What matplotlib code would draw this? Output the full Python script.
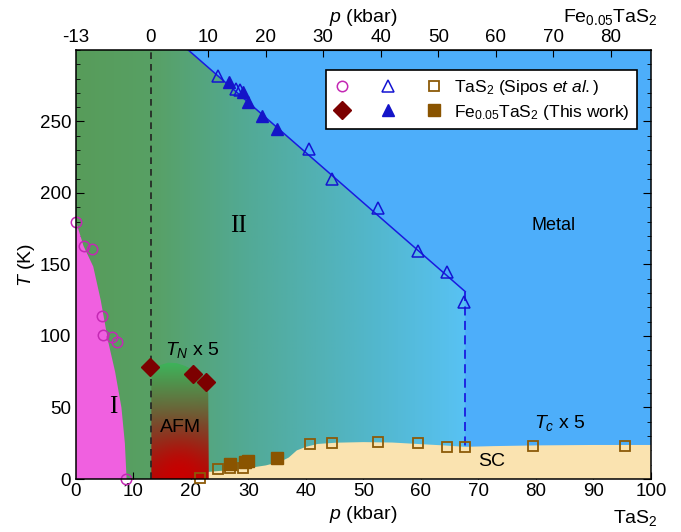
import numpy as np
import matplotlib
matplotlib.use("Agg")
import matplotlib.pyplot as plt
from matplotlib.patches import Polygon
from matplotlib.legend_handler import HandlerTuple
from matplotlib.ticker import MultipleLocator

plt.rcParams['font.family'] = ['Liberation Sans', 'DejaVu Sans']
plt.rcParams['mathtext.fontset'] = 'custom'
plt.rcParams['mathtext.it'] = 'Liberation Sans:italic'
plt.rcParams['mathtext.rm'] = 'Liberation Sans'
plt.rcParams['axes.unicode_minus'] = False

# --- data (p in kbar on the TaS2 scale, T in K) ---
# TaS2 (Sipos et al.)
p_cc_tas2 = [0.0, 1.4, 2.8, 4.6, 4.7, 6.2, 7.1, 8.7]
t_cc_tas2 = [180, 163, 160.5, 114, 101, 99, 96, 0]

p_nc_tas2 = [24.7, 27.9, 28.5, 40.6, 44.6, 52.6, 59.4, 64.5, 67.4]
t_nc_tas2 = [282, 273, 272, 230.5, 209.6, 189.7, 159.4, 144.8, 123.8]

p_sc_tas2 = [21.6, 24.7, 26.7, 29.1, 40.7, 44.6, 52.6, 59.4, 64.5, 67.6, 79.5, 95.4]
t_sc_tas2 = [0.5, 7, 7.5, 8, 24.5, 25.4, 25.7, 25, 22.2, 22.6, 23.3, 23.3]

# Fe0.05TaS2 (this work)
p_tn_fe = [12.9, 20.4, 22.6]
t_tn_fe = [78, 73.4, 67.6]

p_nc_fe = [26.6, 29.1, 30.0, 32.3, 34.9]
t_nc_fe = [277.8, 270.8, 263.8, 253.8, 244.5]

p_sc_fe = [26.7, 29.4, 30.0, 35.0]
t_sc_fe = [10.2, 12.1, 12.6, 14.9]

# phase boundaries
cdw_line_p = [19.5, 67.7]
cdw_line_t = [300, 131]
cdw_drop_t = [131, 22]

ccdw_p = [0, 0, 1.3, 3.0, 4.3, 5.6, 6.8, 7.9, 8.5, 8.8]
ccdw_t = [0, 180, 163, 148.5, 125, 96, 75, 50, 25, 0]

afm_p = [13.1, 13.1, 13.6, 14.5, 16.0, 17.5, 19.0, 20.5, 21.8, 22.6, 23.0, 23.1]
afm_t = [0, 70, 76, 79.5, 81.3, 81, 79, 76, 72, 66, 60, 0]

sc_p = [23.1, 23.1, 26, 29.7, 33, 35.5, 37, 38.4, 40, 42, 45.3, 50, 55, 59.4,
        63.9, 67.6, 72.6, 80, 90, 100, 100]
sc_t = [0, 5, 6, 7.5, 9.5, 12, 15, 20, 22.5, 24.5, 25.4, 25.8, 25.5, 24.5,
        23.5, 22.5, 23, 23.5, 23.8, 23.8, 0]

offset_fe = 13  # Fe0.05TaS2 pressure = TaS2 pressure - 13
top_ticks = [-13, 0, 10, 20, 30, 40, 50, 60, 70, 80]
y_ticks = [0, 50, 100, 150, 200, 250]

fig = plt.figure(figsize=(6.81, 5.32), dpi=100)
ax = fig.add_axes([0.1116, 0.0996, 0.8443, 0.8066])
ax.set_xlim(0, 100)
ax.set_ylim(0, 300)
ax.set_facecolor('#4daefa')

# NC-CDW region: horizontal green -> light blue gradient
stops_p = np.array([0, 13, 30, 50, 67.7])
stops_c = np.array([[87, 156, 90], [88, 160, 100], [82, 170, 150],
                    [82, 182, 200], [88, 194, 244]]) / 255.0
xs = np.linspace(0, 67.7, 400)
grad = np.stack([np.interp(xs, stops_p, stops_c[:, k]) for k in range(3)], axis=-1)
img = ax.imshow(grad[np.newaxis, :, :], extent=[0, 67.7, 0, 300], aspect='auto',
                interpolation='bilinear', zorder=1)
nc_poly = Polygon([(0, 0), (0, 300), (cdw_line_p[0], cdw_line_t[0]),
                   (cdw_line_p[1], cdw_line_t[1]), (cdw_line_p[1], 0)],
                  closed=True, transform=ax.transData, facecolor='none', edgecolor='none')
ax.add_patch(nc_poly)
img.set_clip_path(nc_poly)

# C-CDW region I
ax.add_patch(Polygon(list(zip(ccdw_p, ccdw_t)), closed=True, facecolor='#f060e0',
                     edgecolor='none', zorder=2))

# AFM dome: green on top, red at the bottom centre
ny, nx = 200, 100
yy = np.linspace(0, 1, ny)[:, None]
xx = np.linspace(-1, 1, nx)[None, :]
top_c = np.array([60, 182, 92]) / 255.0
mid_c = np.array([120, 75, 45]) / 255.0
bot_c = np.array([170, 12, 8]) / 255.0
w_top = np.clip((yy - 0.45) / 0.55, 0, 1)
w_bot = np.clip((0.45 - yy) / 0.45, 0, 1)
w_mid = 1 - w_top - w_bot
afm_img = (w_top[..., None] * top_c + w_mid[..., None] * mid_c + w_bot[..., None] * bot_c)
afm_img = np.broadcast_to(afm_img, (ny, nx, 3)).copy()
glow = np.exp(-((xx * 0.9) ** 2 + (yy / 0.3) ** 2))[..., None]
afm_img = afm_img * (1 - glow) + np.array([200, 0, 0]) / 255.0 * glow
afm_im = ax.imshow(afm_img, extent=[13.1, 23.1, 0, 82], origin='lower', aspect='auto',
                   interpolation='bilinear', zorder=2)
afm_poly = Polygon(list(zip(afm_p, afm_t)), closed=True, transform=ax.transData,
                   facecolor='none', edgecolor='none')
ax.add_patch(afm_poly)
afm_im.set_clip_path(afm_poly)

# SC region
ax.add_patch(Polygon(list(zip(sc_p, sc_t)), closed=True, facecolor='#fae3b0',
                     edgecolor='none', zorder=2))

# lines
ax.plot(cdw_line_p, cdw_line_t, color='#1a1ae0', lw=1.1, zorder=3)
ax.plot([cdw_line_p[1]] * 2, cdw_drop_t, color='#1a1ae0', lw=1.3, ls=(0, (5, 3)), zorder=3)
ax.axvline(offset_fe, color='#222222', lw=1.2, ls=(0, (4, 3)), zorder=3)

# markers
h_circ, = ax.plot(p_cc_tas2, t_cc_tas2, 'o', ms=7.5, mfc='none', mec='#c428b4',
                  mew=1.1, zorder=5, clip_on=False)
h_tri_o, = ax.plot(p_nc_tas2, t_nc_tas2, '^', ms=8.5, mfc='none', mec='#1414d2',
                   mew=1.1, zorder=5)
h_sq_o, = ax.plot(p_sc_tas2, t_sc_tas2, 's', ms=7.5, mfc='none', mec='#8c5a08',
                  mew=1.3, zorder=5, clip_on=False)
h_dia, = ax.plot(p_tn_fe, t_tn_fe, 'D', ms=9, color='#7c0000', mec='#7c0000', zorder=5)
h_tri_f, = ax.plot(p_nc_fe, t_nc_fe, '^', ms=8.5, color='#1414c8', zorder=5)
h_sq_f, = ax.plot(p_sc_fe, t_sc_fe, 's', ms=8, color='#8a5400', zorder=5)

# labels inside the plot
ax.text(6.5, 50, 'I', family=['Liberation Serif'], fontsize=18, ha='center', va='center', zorder=6)
ax.text(28.3, 177, 'II', family=['Liberation Serif'], fontsize=18, ha='center', va='center', zorder=6)
ax.text(83, 177, 'Metal', fontsize=13, ha='center', va='center', zorder=6)
ax.text(18.1, 36, 'AFM', fontsize=14, ha='center', va='center', zorder=6)
ax.text(20.2, 90, '$T_N$ x 5', fontsize=14, ha='center', va='center', zorder=6)
ax.text(84.2, 39, '$T_c$ x 5', fontsize=14, ha='center', va='center', zorder=6)
ax.text(72.2, 12, 'SC', fontsize=14, ha='center', va='center', zorder=6)

# axes styling
ax.xaxis.set_major_locator(MultipleLocator(10))
ax.set_yticks(y_ticks)
ax.yaxis.set_minor_locator(MultipleLocator(10))
ax.tick_params(axis='both', which='both', direction='in', labelsize=13.5)
ax.tick_params(axis='y', which='both', right=True)
ax.tick_params(axis='y', which='major', length=6)
ax.tick_params(axis='y', which='minor', length=3)
ax.tick_params(axis='x', which='major', length=5, pad=3)
for s in ax.spines.values():
    s.set_linewidth(1.1)
    s.set_zorder(7)

ax.set_xlabel('$p$ (kbar)', fontsize=14, labelpad=3)
ax.set_ylabel('$T$ (K)', fontsize=14, labelpad=2)

secax = ax.secondary_xaxis('top', functions=(lambda x: x - offset_fe, lambda x: x + offset_fe))
secax.set_xticks(top_ticks)
secax.tick_params(direction='in', labelsize=13.5, length=5, pad=3)
secax.set_xlabel('$p$ (kbar)', fontsize=14, labelpad=5)

fig.text(0.966, 0.008, 'TaS$_2$', fontsize=14, ha='right', va='bottom')
fig.text(0.966, 0.950, 'Fe$_{0.05}$TaS$_2$', fontsize=14, ha='right', va='bottom')

# legend
leg = ax.legend([(h_circ, h_tri_o, h_sq_o), (h_dia, h_tri_f, h_sq_f)],
                ['TaS$_2$ (Sipos $et~al.$)', 'Fe$_{0.05}$TaS$_2$ (This work)'],
                handler_map={tuple: HandlerTuple(ndivide=None, pad=1.8)},
                loc='upper right', bbox_to_anchor=(0.976, 0.952), fontsize=12.5,
                handlelength=6.2, handletextpad=0.7, borderpad=0.45, labelspacing=0.3,
                borderaxespad=0, fancybox=False, framealpha=1, edgecolor='black')
leg.get_frame().set_linewidth(1.2)
leg.set_zorder(8)

fig.savefig('out.png', dpi=100)
